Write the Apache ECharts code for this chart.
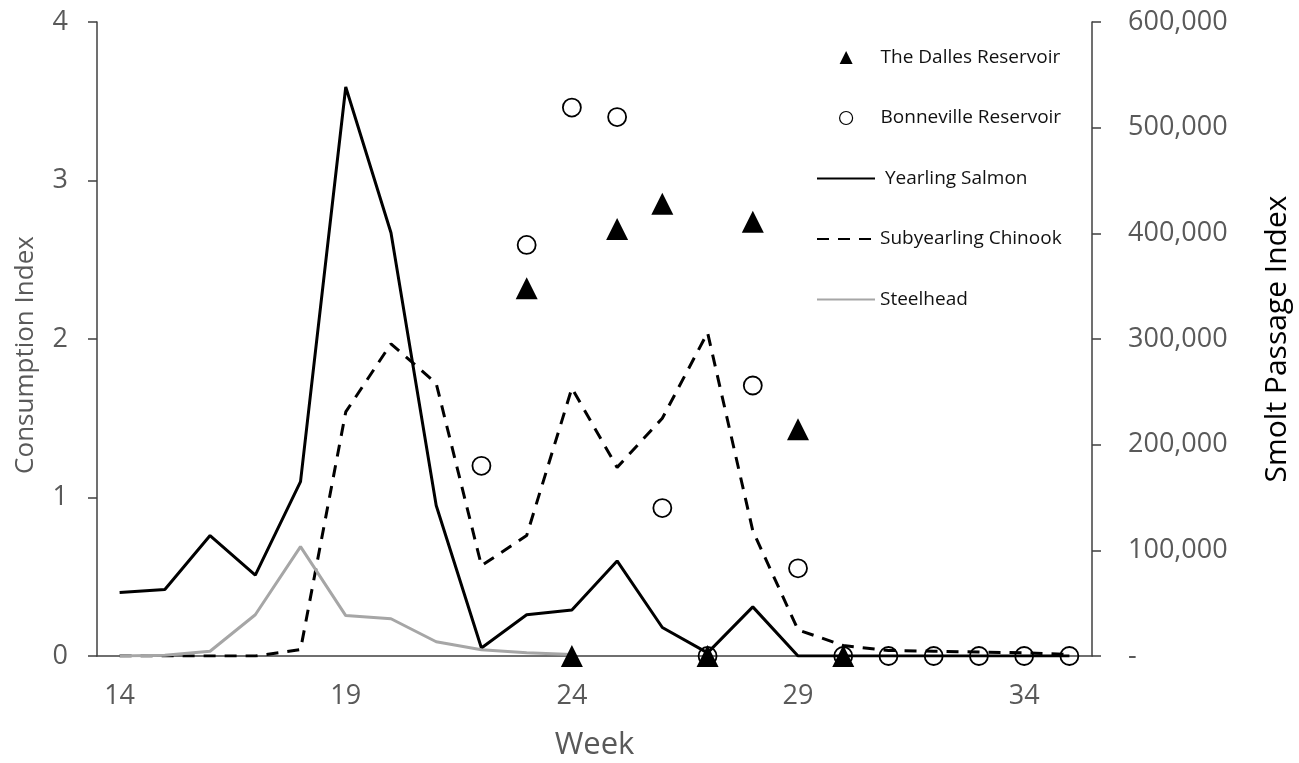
<!DOCTYPE html>
<html>
<head>
<meta charset="utf-8">
<script src="https://cdn.jsdelivr.net/npm/echarts@6/dist/echarts.min.js"></script>
<style>html,body{margin:0;padding:0;background:#fff;}#chart{width:1299px;height:763px;}</style>
</head>
<body>
<div id="chart"></div>
<script>
// Weeks (category axis)
const weeks = [14,15,16,17,18,19,20,21,22,23,24,25,26,27,28,29,30,31,32,33,34,35];
// Consumption index (left axis)
const yearlingSalmon = [0.40,0.42,0.76,0.51,1.10,3.59,2.67,0.95,0.05,0.26,0.29,0.60,0.18,0.02,0.31,0,0,0,0,0,0,0];
const subyearlingChinook = [0,0,0,0,0.04,1.54,1.97,1.72,0.57,0.76,1.69,1.19,1.50,2.04,0.79,0.165,0.066,0.035,0.03,0.025,0.02,0.01];
const steelhead = [0,0.005,0.03,0.26,0.69,0.255,0.235,0.09,0.04,0.02,0.01,null,null,null,null,null,null,null,null,null,null,null];
// Smolt passage index (right axis)
const dallesReservoir = [null,null,null,null,null,null,null,null,null,348000,0,404000,428000,0,411000,214500,0,null,null,null,null,null];
const bonnevilleReservoir = [null,null,null,null,null,null,null,null,180000,389000,519000,510000,140000,0,256000,83000,0,0,0,0,0,0];

const gray = '#595959';
const axisColor = '#404040';
const font = 'Open Sans';
const hideSym = { color: 'rgba(0,0,0,0)', borderWidth: 0, opacity: 0 };

const chart = echarts.init(document.getElementById('chart'));
chart.setOption({
  animation: false,
  backgroundColor: '#ffffff',
  textStyle: { fontFamily: font },
  grid: { left: 97, right: 207, top: 22, bottom: 107, containLabel: false, outerBoundsMode: 'none' },
  legend: [
    {
      orient: 'vertical',
      left: 839,
      top: 48,
      padding: 0,
      itemWidth: 13,
      itemHeight: 13,
      itemGap: 41.5,
      textStyle: { fontFamily: font, fontSize: 19, color: '#111', padding: [0, 0, 0, 23] },
      data: [
        { name: 'The Dalles Reservoir', itemStyle: { opacity: 1 } },
        { name: 'Bonneville Reservoir', itemStyle: { borderWidth: 1.2, opacity: 1 } }
      ]
    },
    {
      orient: 'vertical',
      left: 816,
      top: 169,
      padding: 0,
      itemWidth: 58,
      itemHeight: 12,
      itemGap: 41.5,
      textStyle: { fontFamily: font, fontSize: 19, color: '#111' },
      data: [
        { name: ' Yearling Salmon', itemStyle: hideSym },
        { name: 'Subyearling Chinook', itemStyle: hideSym },
        { name: 'Steelhead', itemStyle: hideSym }
      ]
    }
  ],
  xAxis: {
    type: 'category',
    data: weeks,
    boundaryGap: true,
    name: 'Week',
    nameLocation: 'middle',
    nameGap: 74,
    nameTextStyle: { fontFamily: font, fontSize: 31, color: gray },
    axisLine: { lineStyle: { color: axisColor, width: 1.5 } },
    axisTick: { interval: 0, length: 9, lineStyle: { color: axisColor, width: 1.5 } },
    axisLabel: { interval: 4, margin: 27, fontFamily: font, fontSize: 27, color: gray },
    splitLine: { show: false }
  },
  yAxis: [
    {
      type: 'value',
      min: 0, max: 4, interval: 1,
      position: 'left',
      name: 'Consumption Index',
      nameLocation: 'middle',
      nameRotate: 90,
      nameGap: 58,
      nameTextStyle: { fontFamily: font, fontSize: 26, color: gray, padding: [0, 32, 0, 0] },
      axisLine: { show: true, lineStyle: { color: axisColor, width: 1.5 } },
      axisTick: { show: true, length: 9, lineStyle: { color: axisColor, width: 1.5 } },
      axisLabel: { margin: 29, fontFamily: font, fontSize: 27, color: gray },
      splitLine: { show: false }
    },
    {
      type: 'value',
      min: 0, max: 600000, interval: 100000,
      position: 'right',
      name: 'Smolt Passage Index',
      nameLocation: 'middle',
      nameRotate: 90,
      nameGap: 170,
      nameTextStyle: { fontFamily: font, fontSize: 30, color: '#000' },
      axisLine: { show: true, lineStyle: { color: axisColor, width: 1.5 } },
      axisTick: { show: true, length: 9, lineStyle: { color: axisColor, width: 1.5 } },
      axisLabel: {
        margin: 36, fontFamily: font, fontSize: 27, color: gray,
        formatter: v => v === 0 ? '-' : v.toLocaleString('en-US')
      },
      splitLine: { show: false }
    }
  ],
  series: [
    {
      name: ' Yearling Salmon', type: 'line', yAxisIndex: 0, data: yearlingSalmon,
      symbol: 'none', lineStyle: { color: '#000', width: 3 }, itemStyle: { color: '#000' }, z: 2
    },
    {
      name: 'Subyearling Chinook', type: 'line', yAxisIndex: 0, data: subyearlingChinook,
      symbol: 'none', lineStyle: { color: '#000', width: 3, type: [12, 9] }, itemStyle: { color: '#000' }, z: 2
    },
    {
      name: 'Steelhead', type: 'line', yAxisIndex: 0, data: steelhead,
      symbol: 'none', lineStyle: { color: '#A6A6A6', width: 3 }, itemStyle: { color: '#A6A6A6' }, z: 2
    },
    {
      name: 'The Dalles Reservoir', type: 'scatter', yAxisIndex: 1, data: dallesReservoir,
      symbol: 'triangle', symbolSize: 22, clip: false, itemStyle: { color: '#000', opacity: 1 }, z: 3
    },
    {
      name: 'Bonneville Reservoir', type: 'scatter', yAxisIndex: 1, data: bonnevilleReservoir,
      symbol: 'circle', symbolSize: 18, clip: false,
      itemStyle: { color: 'rgba(255,255,255,0)', borderColor: '#000', borderWidth: 1.8, opacity: 1 }, z: 4
    }
  ]
});
</script>
</body>
</html>
